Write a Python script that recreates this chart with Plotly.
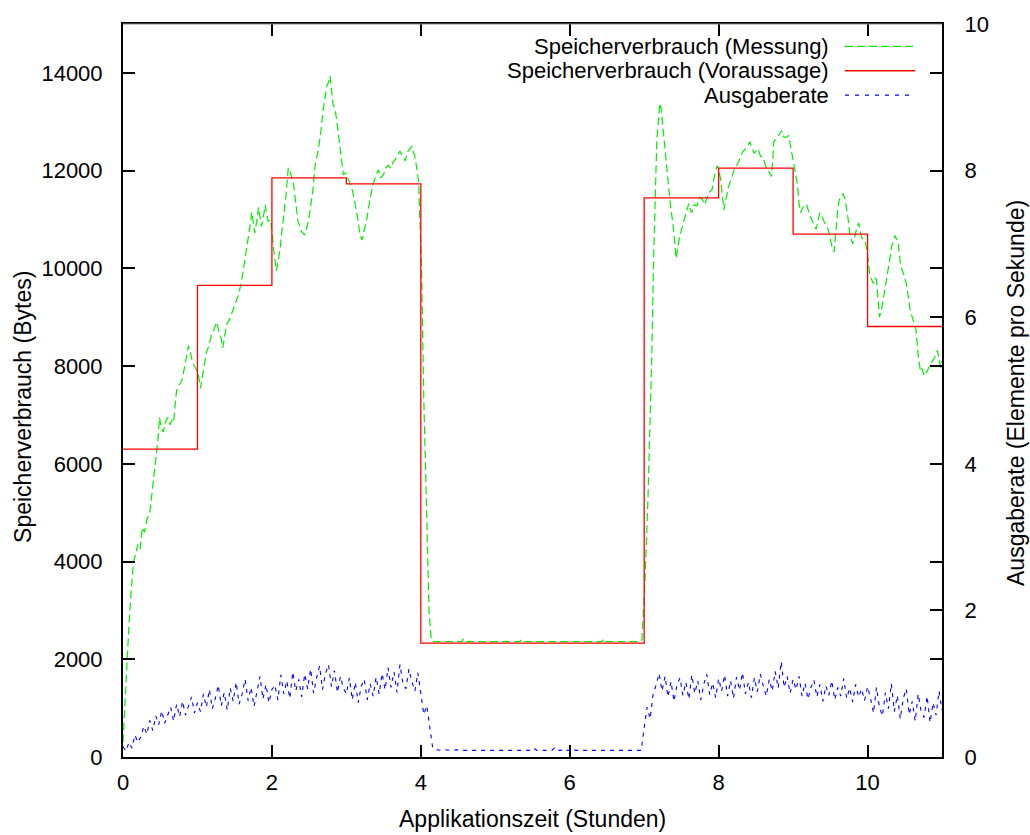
import numpy as np
import plotly.graph_objects as go

# --- predicted memory use (step function, value holds until next hour mark)
prog_hours = [0, 1, 2, 3, 4, 7, 8, 9, 10, 11]
prog_bytes = [6300, 9650, 11850, 11730, 2330, 11440, 12050, 10700, 8810, 8810]

# --- measured memory use
mess_hours = [
    0.00, 0.03, 0.05, 0.08, 0.11, 0.14, 0.17, 0.20, 0.23, 0.26, 0.29, 0.32, 0.36, 0.40, 0.44, 0.47,
    0.49, 0.52, 0.54, 0.57, 0.60, 0.63, 0.66, 0.68, 0.70, 0.72, 0.75, 0.79, 0.83, 0.86, 0.88, 0.91,
    0.93, 0.96, 0.99, 1.01, 1.04, 1.07, 1.10, 1.12, 1.15, 1.19, 1.22, 1.26, 1.29, 1.32, 1.34, 1.37,
    1.39, 1.43, 1.46, 1.49, 1.52, 1.55, 1.59, 1.62, 1.64, 1.66, 1.68, 1.71, 1.73, 1.75, 1.77, 1.80,
    1.82, 1.84, 1.86, 1.89, 1.91, 1.93, 1.95, 1.98, 2.00, 2.03, 2.06, 2.09, 2.11, 2.13, 2.15, 2.19,
    2.22, 2.25, 2.29, 2.32, 2.35, 2.40, 2.44, 2.48, 2.51, 2.55, 2.58, 2.62, 2.65, 2.69, 2.71, 2.74,
    2.76, 2.78, 2.80, 2.82, 2.85, 2.87, 2.89, 2.92, 2.94, 2.96, 2.99, 3.03, 3.06, 3.09, 3.12, 3.16,
    3.18, 3.21, 3.24, 3.27, 3.31, 3.34, 3.36, 3.40, 3.43, 3.46, 3.50, 3.53, 3.56, 3.60, 3.63, 3.65,
    3.68, 3.72, 3.75, 3.79, 3.82, 3.85, 3.88, 3.90, 3.92, 3.95, 3.97, 4.01, 4.04, 4.08, 4.11, 4.14,
    4.17, 4.55, 4.57, 4.59, 5.33, 5.35, 5.37, 6.43, 6.46, 6.49, 6.94, 6.97, 7.01, 7.05, 7.10, 7.13,
    7.17, 7.21, 7.23, 7.25, 7.30, 7.35, 7.39, 7.43, 7.46, 7.48, 7.52, 7.55, 7.58, 7.60, 7.62, 7.64,
    7.67, 7.71, 7.74, 7.78, 7.81, 7.84, 7.87, 7.91, 7.93, 7.95, 7.98, 8.00, 8.03, 8.05, 8.07, 8.10,
    8.13, 8.16, 8.19, 8.22, 8.26, 8.29, 8.32, 8.36, 8.39, 8.42, 8.45, 8.48, 8.50, 8.53, 8.56, 8.60,
    8.63, 8.67, 8.71, 8.73, 8.74, 8.77, 8.80, 8.83, 8.85, 8.87, 8.89, 8.92, 8.94, 8.96, 8.98, 9.01,
    9.03, 9.05, 9.07, 9.08, 9.10, 9.14, 9.18, 9.21, 9.23, 9.27, 9.31, 9.34, 9.36, 9.39, 9.41, 9.44,
    9.47, 9.50, 9.52, 9.55, 9.58, 9.60, 9.62, 9.65, 9.67, 9.69, 9.71, 9.74, 9.76, 9.78, 9.80, 9.83,
    9.85, 9.88, 9.90, 9.92, 9.95, 9.97, 10.00, 10.03, 10.06, 10.08, 10.10, 10.12, 10.14, 10.16, 10.19, 10.22,
    10.25, 10.28, 10.30, 10.32, 10.35, 10.37, 10.39, 10.41, 10.44, 10.46, 10.49, 10.52, 10.55, 10.57, 10.60, 10.63,
    10.65, 10.68, 10.71, 10.73, 10.76, 10.78, 10.80, 10.83, 10.85, 10.87, 10.89, 10.92, 10.94, 10.96, 10.98, 11.00,
]
mess_bytes = [
    300, 1300, 1950, 2700, 3400, 4000, 4150, 4350, 4250, 4700, 4600, 4850, 5000, 5500, 6100, 6500,
    6950, 6700, 6650, 6850, 6950, 6800, 6900, 6850, 7200, 7500, 7600, 7700, 8000, 8250, 8420, 8250,
    8100, 8000, 7900, 7850, 7550, 7800, 8050, 8280, 8400, 8650, 8750, 8900, 8700, 8550, 8370, 8650,
    8850, 8950, 9100, 9200, 9330, 9450, 9720, 10000, 10250, 10400, 10580, 10900, 11150, 10900, 10720, 11000,
    11250, 11050, 10860, 11100, 11300, 11100, 10960, 11000, 10770, 10300, 9950, 10200, 10390, 10700, 10960, 11500,
    12060, 11950, 11730, 11350, 10960, 10750, 10680, 10900, 11150, 11600, 12110, 12400, 12700, 13260, 13500, 13750,
    13800, 13940, 13650, 13370, 13250, 13070, 12800, 12400, 12150, 11920, 11950, 11820, 11700, 11540, 11300, 10960,
    10700, 10580, 10780, 10960, 11350, 11600, 11730, 11900, 12020, 11850, 11920, 12050, 12110, 12050, 12180, 12210,
    12300, 12400, 12300, 12200, 12380, 12450, 12500, 12380, 12300, 12000, 11780, 10000, 7300, 4900, 3000, 2400,
    2360, 2360, 2410, 2360, 2360, 2400, 2360, 2360, 2420, 2360, 2360, 2400, 3570, 5250, 8060, 10390,
    12630, 13380, 13250, 12910, 12070, 11330, 10860, 10200, 10500, 10670, 10900, 11050, 11250, 11330, 11200, 11140,
    11300, 11280, 11450, 11420, 11300, 11420, 11550, 11610, 11800, 11940, 12100, 12030, 11790, 11450, 11190, 11420,
    11650, 11790, 11950, 12070, 12150, 12260, 12380, 12450, 12520, 12590, 12450, 12350, 12400, 12450, 12300, 12260,
    12100, 11980, 11880, 12300, 12590, 12650, 12730, 12780, 12820, 12700, 12680, 12690, 12720, 12550, 12350, 12100,
    11960, 11790, 11530, 11330, 11140, 11270, 11310, 11150, 11060, 10930, 10800, 11000, 11140, 11050, 10970, 10880,
    10800, 10600, 10460, 10330, 10970, 11200, 11400, 11480, 11530, 11450, 11310, 11000, 10710, 10600, 10500, 10650,
    10800, 10930, 10780, 10630, 10580, 10540, 10290, 9860, 9750, 9690, 9800, 9770, 9400, 9000, 9170, 9450,
    9690, 9940, 10200, 10420, 10600, 10670, 10600, 10540, 10120, 9980, 9860, 9690, 9400, 9170, 9000, 8850,
    8750, 8230, 7890, 7950, 7800, 7850, 7890, 8000, 8060, 8100, 8140, 8250, 8320, 8150, 7970, 8100,
]

# --- output rate (elements per second), sampled every 0.04 h
rate_interval = 0.04
rate_values = (
    [0.14, 0.08, 0.20, 0.12, 0.30, 0.20]
    + [0.28, 0.42, 0.31, 0.50, 0.36, 0.56, 0.44, 0.63, 0.46, 0.58,
       0.68, 0.49, 0.72, 0.55, 0.76, 0.57, 0.70, 0.82, 0.60, 0.74]
    + [0.62, 0.86, 0.68, 0.92, 0.66, 0.80, 0.98, 0.70, 0.88, 0.64,
       0.94, 0.76, 1.02, 0.72, 0.86, 1.06, 0.77, 0.95, 0.69, 0.90,
       1.10, 0.79, 0.99, 0.74, 0.92]
    + [0.98, 0.78, 1.12, 0.86, 1.04, 0.80, 1.16, 0.90, 1.06, 0.82,
       1.13, 0.93, 1.20, 0.87, 1.08, 1.24, 0.92, 1.14, 1.26, 0.96,
       1.18, 0.88, 1.10, 0.94]
    + [0.86, 1.08, 0.78, 1.02, 0.74, 0.97, 1.06, 0.78, 1.00, 0.83,
       1.09, 0.86, 1.14, 0.92, 1.22, 0.95, 1.16, 0.88, 1.26, 1.00,
       0.93, 1.20, 1.03, 0.90, 1.15]
    + [0.84, 0.58, 0.70, 0.40, 0.12]
    + [0.10, 0.09, 0.09, 0.10, 0.09, 0.09, 0.09, 0.10, 0.09, 0.09,
       0.09, 0.09, 0.10, 0.09, 0.09, 0.09, 0.09, 0.09, 0.10, 0.09,
       0.09, 0.09, 0.09, 0.10, 0.09, 0.09, 0.09, 0.09, 0.09, 0.09,
       0.10, 0.09, 0.09, 0.12, 0.09, 0.09, 0.09, 0.10, 0.09, 0.09,
       0.13, 0.09, 0.09, 0.11, 0.09, 0.09, 0.12, 0.09, 0.09, 0.10,
       0.09, 0.09, 0.09, 0.09, 0.10, 0.09, 0.09, 0.09, 0.09, 0.09,
       0.09, 0.10, 0.09, 0.09, 0.09, 0.09, 0.09, 0.09, 0.10, 0.09]
    + [0.40, 0.68, 0.52, 0.86, 0.98, 1.14]
    + [0.90, 1.10, 0.82, 1.03, 0.76, 0.98, 1.08, 0.84, 1.02, 0.79,
       1.12, 0.87, 1.04, 0.78, 0.99, 1.13, 0.85, 1.01, 0.81, 1.07]
    + [0.90, 1.12, 0.83, 1.04, 0.80, 1.09, 0.91, 1.15, 0.86, 1.02,
       0.81, 1.08, 0.89, 1.13, 0.97, 0.83, 1.06, 0.90, 1.17, 0.94,
       1.30, 0.95, 1.10, 0.87, 1.06]
    + [0.92, 1.10, 0.83, 1.01, 0.79, 0.95, 1.05, 0.82, 0.99, 0.76,
       0.97, 0.84, 1.04, 0.78, 0.95, 0.83, 1.07, 0.80, 0.94, 0.75,
       0.99, 0.82, 0.93, 0.77, 0.96]
    + [0.80, 0.60, 0.95, 0.68, 0.56, 0.88, 0.66, 1.00, 0.62, 0.84,
       0.52, 0.80, 0.93, 0.58, 0.76, 0.49, 0.86, 0.62, 0.54, 0.83,
       0.47, 0.74, 0.57, 0.90, 0.64]
)
rate_hours = np.round(np.arange(len(rate_values)) * rate_interval, 3)

x_ticks = [0, 2, 4, 6, 8, 10]
y_ticks = [0, 2000, 4000, 6000, 8000, 10000, 12000, 14000]
y2_ticks = [0, 2, 4, 6, 8, 10]

legend_labels = [
    "Speicherverbrauch (Messung)",
    "Speicherverbrauch (Voraussage)",
    "Ausgaberate",
]

GREEN = "#00f000"
RED = "#ff0000"
BLUE = "#0000ff"
FONT = "Liberation Sans, Arial, sans-serif"
FS = 23

fig = go.Figure()
fig.add_trace(go.Scatter(
    x=mess_hours, y=mess_bytes, mode="lines", name=legend_labels[0],
    line=dict(color=GREEN, width=1.2, dash="8px,4px"),
))
fig.add_trace(go.Scatter(
    x=prog_hours, y=prog_bytes, mode="lines", name=legend_labels[1],
    line=dict(color=RED, width=1.3, shape="hv"),
))
fig.add_trace(go.Scatter(
    x=rate_hours, y=rate_values, mode="lines", name=legend_labels[2], yaxis="y2",
    line=dict(color=BLUE, width=1.1, dash="4px,5px"),
))

# plot-area geometry in pixels
L, R, T, B = 123, 942, 20, 757
W, H = R - L, B - T


def px(xp):
    return (xp - L) / W


def py(yp):
    return (B - yp) / H


annotations = []
shapes = []
legend_rows = [42.5, 67, 91.5]
legend_styles = [
    dict(color=GREEN, width=1.2, dash="8px,4px"),
    dict(color=RED, width=1.3),
    dict(color=BLUE, width=1.1, dash="4px,6px"),
]
for label, row, style in zip(legend_labels, legend_rows, legend_styles):
    annotations.append(dict(
        x=px(830), y=py(row), xref="paper", yref="paper", text=label,
        showarrow=False, xanchor="right", yanchor="middle", borderpad=0,
        font=dict(family=FONT, size=22, color="black"),
    ))
    shapes.append(dict(
        type="line", xref="paper", yref="paper",
        x0=px(845), x1=px(915), y0=py(row), y1=py(row), line=style,
    ))

# axis titles
annotations += [
    dict(x=0.5, y=py(819), xref="paper", yref="paper",
         text="Applikationszeit (Stunden)", showarrow=False,
         xanchor="center", yanchor="middle",
         font=dict(family=FONT, size=FS, color="black")),
    dict(x=px(23), y=py(405), xref="paper", yref="paper",
         text="Speicherverbrauch (Bytes)", showarrow=False, textangle=-90,
         xanchor="center", yanchor="middle",
         font=dict(family=FONT, size=FS, color="black")),
    dict(x=px(1016), y=py(391), xref="paper", yref="paper",
         text="Ausgaberate (Elemente pro Sekunde)", showarrow=False, textangle=-90,
         xanchor="center", yanchor="middle",
         font=dict(family=FONT, size=FS, color="black")),
]

# thin top border of the frame
shapes.append(dict(type="line", xref="paper", yref="paper", x0=0, x1=1, y0=1, y1=1,
                   line=dict(color="#888888", width=1)))

tickfont = dict(family=FONT, size=22, color="black")
fig.update_layout(
    width=1030, height=835,
    margin=dict(l=L, r=1030 - R, t=T, b=835 - B, pad=0),
    paper_bgcolor="white", plot_bgcolor="white",
    showlegend=False,
    annotations=annotations, shapes=shapes,
    xaxis=dict(
        range=[0, 11], tickvals=x_ticks, ticktext=[str(v) for v in x_ticks],
        ticks="inside", ticklen=12, tickwidth=1.5, tickcolor="black",
        mirror="ticks", showline=True, linecolor="black", linewidth=2,
        showgrid=False, zeroline=False, tickfont=tickfont, ticklabelstandoff=5,
    ),
    yaxis=dict(
        range=[0, 15000], tickvals=y_ticks, ticktext=[str(v) for v in y_ticks],
        ticks="inside", ticklen=12, tickwidth=1.5, tickcolor="black",
        mirror="ticks", showline=True, linecolor="black", linewidth=2,
        showgrid=False, zeroline=False, tickfont=tickfont, ticklabelstandoff=14,
    ),
    yaxis2=dict(
        range=[0, 10], tickvals=y2_ticks, ticktext=[str(v) for v in y2_ticks],
        overlaying="y", side="right",
        ticks="inside", ticklen=12, tickwidth=1.5, tickcolor="black",
        showline=True, linecolor="black", linewidth=2,
        showgrid=False, zeroline=False, tickfont=tickfont, ticklabelstandoff=16,
    ),
)

fig.write_html("out.html")
